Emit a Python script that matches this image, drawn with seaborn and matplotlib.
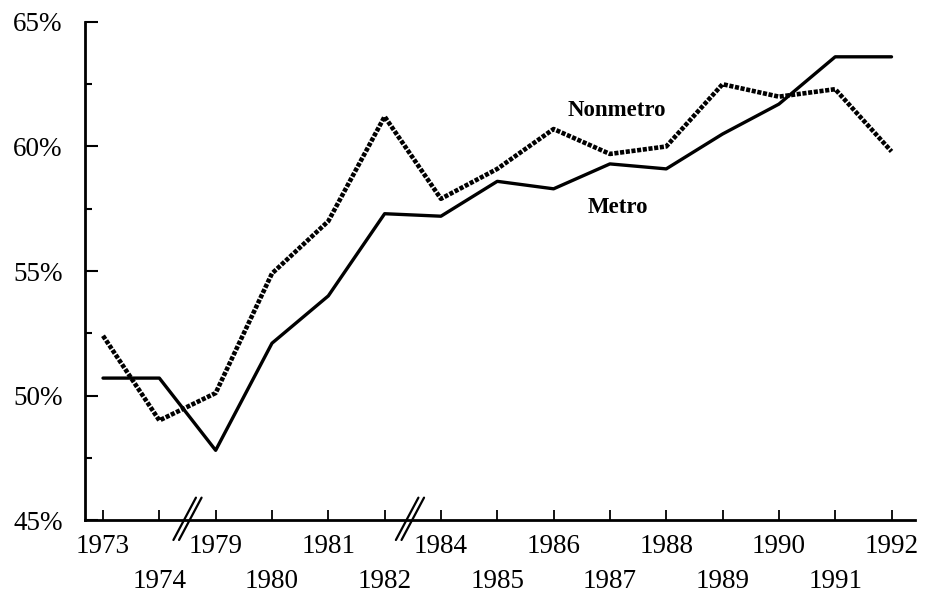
import matplotlib
matplotlib.use("Agg")
import matplotlib.pyplot as plt
import seaborn as sns
import pandas as pd
from matplotlib.ticker import MultipleLocator, FuncFormatter

# values (percent)
years = ["1973", "1974", "1979", "1980", "1981", "1982", "1984", "1985",
         "1986", "1987", "1988", "1989", "1990", "1991", "1992"]
metro = [50.7, 50.7, 47.8, 52.1, 54.0, 57.3, 57.2, 58.6,
         58.3, 59.3, 59.1, 60.5, 61.7, 63.6, 63.6]
nonmetro = [52.4, 49.0, 50.1, 54.9, 57.0, 61.2, 57.9, 59.1,
            60.7, 59.7, 60.0, 62.5, 62.0, 62.3, 59.8]

df = pd.DataFrame({"pos": range(len(years)), "Metro": metro, "Nonmetro": nonmetro})

sns.set_style("ticks")
plt.rcParams["font.family"] = ["Liberation Serif", "DejaVu Serif"]
plt.rcParams["text.color"] = "black"

fig = plt.figure(figsize=(9.37, 5.93), dpi=100)
ax = fig.add_axes([0.0907, 0.123, 0.886, 0.840])

sns.lineplot(data=df, x="pos", y="Metro", color="black", linewidth=2.4, ax=ax)
sns.lineplot(data=df, x="pos", y="Nonmetro", color="black", linewidth=3.3,
             linestyle=(0, (0.9, 0.35)), ax=ax)

ax.set_xlim(-0.32, 14.42)
ax.set_ylim(45, 65)
ax.set_xlabel("")
ax.set_ylabel("")

# axes look
sns.despine(ax=ax, top=True, right=True)
for s in ["left", "bottom"]:
    ax.spines[s].set_linewidth(2.0)
    ax.spines[s].set_color("black")

ax.yaxis.set_major_locator(MultipleLocator(5))
ax.yaxis.set_minor_locator(MultipleLocator(2.5))
ax.yaxis.set_major_formatter(FuncFormatter(lambda v, p: "{:d}%".format(int(round(v)))))
ax.tick_params(axis="y", which="major", direction="in", length=9, width=1.5,
               labelsize=19.5, pad=16, colors="black")
ax.tick_params(axis="y", which="minor", direction="in", length=5, width=1.5,
               colors="black")

ax.set_xticks(df["pos"])
ax.set_xticklabels(years)
ax.tick_params(axis="x", direction="in", length=7, width=1.3, labelsize=19.5,
               pad=10, colors="black")
for i, t in enumerate(ax.xaxis.get_major_ticks()):
    if i % 2 == 1:
        t.set_pad(35)

# series labels
ax.text(9.13, 61.45, "Nonmetro", fontsize=16.5, fontweight="bold", color="black",
        ha="center", va="center")
ax.text(9.15, 57.55, "Metro", fontsize=16.5, fontweight="bold", color="black",
        ha="center", va="center")

# axis break marks
tr = ax.get_xaxis_transform()
for c in [1.5, 5.45]:
    for off in [-0.05, 0.05]:
        ax.plot([c + off - 0.2, c + off + 0.2], [-0.04, 0.045], color="black",
                linewidth=1.6, transform=tr, clip_on=False)

fig.savefig("out.png", dpi=100)
